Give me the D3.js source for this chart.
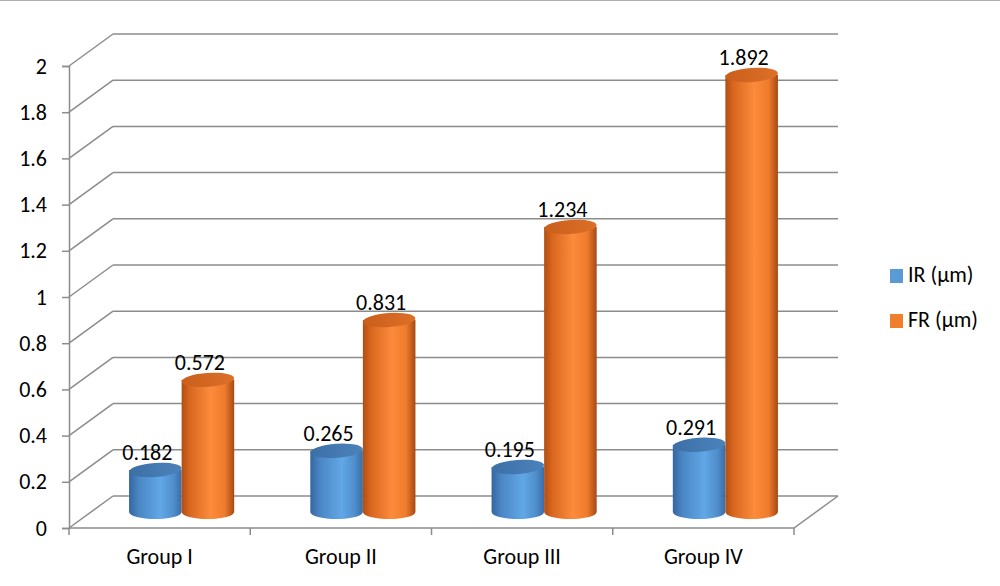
<!DOCTYPE html>
<html>
<head>
<meta charset="utf-8">
<script src="https://cdnjs.cloudflare.com/ajax/libs/d3/7.8.5/d3.min.js"></script>
<style>
	body { margin: 0; background: #fff; }
	svg { display: block; font-family: Carlito, Calibri, Lato, sans-serif; }
</style>
</head>
<body>
<div id="chart"></div>
<script>
/*global d3*/
const groups = [ 'Group I', 'Group II', 'Group III', 'Group IV' ];
const seriesNames = [ 'IR (\u00b5m)', 'FR (\u00b5m)' ];
const irValues = [ 0.182, 0.265, 0.195, 0.291 ];
const frValues = [ 0.572, 0.831, 1.234, 1.892 ];
const yTicks = [ 0, 0.2, 0.4, 0.6, 0.8, 1, 1.2, 1.4, 1.6, 1.8, 2 ];

const width = 1000;
const height = 586;
// depth offset of the back wall (oblique projection)
const depthX = 44;
const depthY = -32;
const barDepth = 0.5;
const fontSize = 22;

const svg = d3
	.select('#chart')
	.append('svg')
	.attr('width', width)
	.attr('height', height);

const x = d3.scaleBand().domain(groups).range([ 69, 794 ]);
const y = d3.scaleLinear().domain([ 0, 2 ]).range([ 528, 66 ]);
const gridColor = '#8c8c8c';

// top border of chart area
svg.append('line')
	.attr('x1', 0).attr('x2', width)
	.attr('y1', 0.5).attr('y2', 0.5)
	.attr('stroke', '#b0b0b0');

// back wall gridlines
svg.selectAll('.grid')
	.data(yTicks)
	.enter()
	.append('line')
	.attr('x1', 69 + depthX)
	.attr('x2', 794 + depthX)
	.attr('y1', (d) => y(d) + depthY)
	.attr('y2', (d) => y(d) + depthY)
	.attr('stroke', gridColor)
	.attr('stroke-width', 1.5);

// left wall diagonals
svg.selectAll('.side')
	.data(yTicks)
	.enter()
	.append('line')
	.attr('x1', 69)
	.attr('x2', 69 + depthX)
	.attr('y1', (d) => y(d))
	.attr('y2', (d) => y(d) + depthY)
	.attr('stroke', gridColor)
	.attr('stroke-width', 1.5);

// floor edges
svg.append('path')
	.attr('d', `M69,${y(0)}H794L${794 + depthX},${y(0) + depthY}`)
	.attr('fill', 'none')
	.attr('stroke', gridColor)
	.attr('stroke-width', 1.5);

// y axis
svg.append('g')
	.attr('transform', 'translate(69,0)')
	.call(d3.axisLeft(y).tickValues(yTicks).tickSize(7).tickPadding(15).tickFormat(d3.format('~g')))
	.call((g) => g.select('.domain').attr('stroke', gridColor).attr('stroke-width', 1.5))
	.call((g) => g.selectAll('.tick line').attr('stroke', gridColor).attr('stroke-width', 1.5))
	.call((g) => g.selectAll('.tick text').attr('font-size', fontSize).attr('fill', '#000').attr('font-family', 'Carlito, Calibri, Lato, sans-serif'));

// x axis ticks at band boundaries
const bounds = groups.map((g) => x(g)).concat([ x.range()[1] ]);
svg.selectAll('.xtick')
	.data(bounds)
	.enter()
	.append('line')
	.attr('x1', (d) => d)
	.attr('x2', (d) => d)
	.attr('y1', y(0))
	.attr('y2', y(0) + 7)
	.attr('stroke', gridColor)
	.attr('stroke-width', 1.5);

svg.selectAll('.xlabel')
	.data(groups)
	.enter()
	.append('text')
	.attr('x', (d) => x(d) + x.bandwidth() / 2)
	.attr('y', 564)
	.attr('text-anchor', 'middle')
	.attr('font-size', fontSize)
	.text((d) => d);

// gradients
const defs = svg.append('defs');
function makeGradient(id, stops) {
	const grad = defs.append('linearGradient').attr('id', id).attr('x1', '0%').attr('x2', '100%').attr('y1', '0%').attr('y2', '0%');
	stops.forEach((s) => grad.append('stop').attr('offset', s[0]).attr('stop-color', s[1]));
}
makeGradient('bodyBlue', [ [ '0%', '#3566a0' ], [ '18%', '#4a86c4' ], [ '60%', '#62a7e6' ], [ '85%', '#4f8dcb' ], [ '100%', '#3a6da6' ] ]);
makeGradient('topBlue', [ [ '0%', '#3c6fa6' ], [ '100%', '#4c82bb' ] ]);
makeGradient('bodyOrange', [ [ '0%', '#b04e14' ], [ '15%', '#d8661e' ], [ '55%', '#fd8b3c' ], [ '82%', '#ef7b2c' ], [ '100%', '#a64a14' ] ]);
makeGradient('topOrange', [ [ '0%', '#c95f1c' ], [ '100%', '#dd7028' ] ]);

const series = [
	{ name: seriesNames[0], values: irValues, body: 'url(#bodyBlue)', top: 'url(#topBlue)', color: '#5b9bd5' },
	{ name: seriesNames[1], values: frValues, body: 'url(#bodyOrange)', top: 'url(#topOrange)', color: '#f07f2d' },
];

const barW = x.bandwidth() * 0.29;
const xs = d3.scaleBand()
	.domain(series.map((s) => s.name))
	.range([ (x.bandwidth() - 2 * barW) / 2, (x.bandwidth() + 2 * barW) / 2 ]);
const ry = 7;

// cylinders
groups.forEach((g, gi) => {
	series.forEach((s) => {
		const v = s.values[gi];
		const left = x(g) + xs(s.name) + depthX * barDepth;
		const rx = xs.bandwidth() / 2;
		const cx = left + rx;
		const yb = y(0) + depthY * barDepth;
		const yt = y(v) + depthY * barDepth;
		const cyl = svg.append('g');
		cyl.append('path')
			.attr('d', `M${left},${yt}V${yb}A${rx},${ry} 0 0 0 ${left + 2 * rx},${yb}V${yt}Z`)
			.attr('fill', s.body);
		cyl.append('ellipse')
			.attr('cx', cx)
			.attr('cy', yt)
			.attr('rx', rx)
			.attr('ry', ry)
			.attr('transform', `rotate(-4,${cx},${yt})`)
			.attr('fill', s.top);
		svg.append('text')
			.attr('x', cx - 8)
			.attr('y', yt - 10)
			.attr('text-anchor', 'middle')
			.attr('font-size', fontSize)
			.text(v.toFixed(3));
	});
});

// legend
const legend = svg.selectAll('.legend')
	.data(series)
	.enter()
	.append('g')
	.attr('transform', (d, i) => `translate(890,${269 + i * 45})`);
legend.append('rect')
	.attr('width', 13)
	.attr('height', 14)
	.attr('fill', (d) => d.color);
legend.append('text')
	.attr('x', 18)
	.attr('y', 13)
	.attr('font-size', fontSize)
	.text((d) => d.name);
</script>
</body>
</html>
